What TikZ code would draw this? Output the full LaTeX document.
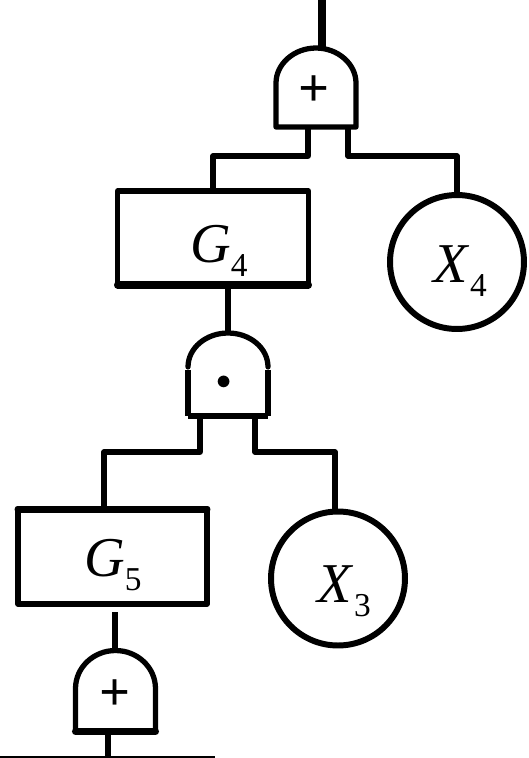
\documentclass[tikz,border=0pt]{standalone}
\usepackage{fontspec}
\setmainfont{Liberation Serif}
\usetikzlibrary{positioning, calc}

\newcommand{\lowsub}[2]{\hspace{#1}\raisebox{-0.28cm}{\fontsize{19}{19}\selectfont\upshape #2}}

\begin{document}
\begin{tikzpicture}[
    x=0.02cm, y=-0.02cm,
    wire/.style={line width=2.9pt, line join=round},
    outline/.style={line width=3pt, line join=round},
    thickedge/.style={line width=4pt, line cap=round},
    gatebody/.style={minimum width=1.6cm, inner sep=0pt, outer sep=0pt},
    eventbox/.style={draw, line width=3pt, line join=round, inner sep=0pt, outer sep=0pt},
    basic/.style={draw, circle, line width=3.4pt, minimum size=2.68cm, inner sep=0pt, outer sep=0pt},
    symbolmark/.style={font=\fontsize{31}{31}\selectfont\bfseries, inner sep=0pt},
    element/.style={font=\fontsize{32}{32}\selectfont\itshape, anchor=base west, inner sep=0pt}
]
\useasboundingbox (0,0) rectangle (528,758);

% Top OR gate
\node[gatebody, minimum height=1.58cm] (orA) at (316,87.5) {};
\draw[outline] (orA.south west) -- ++(0,-44)
    .. controls +(0,-19) and +(-22,0) .. (orA.north)
    .. controls +(22,0) and +(0,-19) .. ($(orA.south east)+(0,-44)$)
    -- (orA.south east) -- cycle;
\node[symbolmark] (plusA) at (314,91) {+};
\coordinate (topend) at (322,0);
\coordinate (orAin) at (322,48);
\draw[line width=5pt] (topend) -- (orAin);

% Second level
\node[eventbox, minimum width=3.82cm, minimum height=1.88cm] (boxG4) at (213,238) {};
\draw[thickedge] (boxG4.south west) -- (boxG4.south east);
\node[element] (textG4) at (190,262) {G\lowsub{0pt}{4}};
\node[basic] (circX4) at (457,262) {};
\node[element] (textX4) at (433,282) {X\lowsub{0.05cm}{4}};

\coordinate (orAleft) at (308,127);
\coordinate (orAright) at (348,127);
\draw[wire] (orAleft) -- ++(0,29) -| (boxG4.north);
\draw[wire] (orAright) -- ++(0,29) -| (circX4.north);

% AND gate, outline broken at the shoulders
\node[gatebody, minimum height=1.66cm] (andA) at (228,374.5) {};
\draw[outline] (andA.south west) -- ++(0,-46);
\draw[outline] (andA.south east) -- ++(0,-46);
\draw[outline] (andA.south west) -- (andA.south east);
\draw[outline, line cap=round] ($(andA.south west)+(0,-49)$)
    .. controls +(0,-19) and +(-22,0) .. (andA.north)
    .. controls +(22,0) and +(0,-19) .. ($(andA.south east)+(0,-49)$);
\node[font=\fontsize{18}{18}\selectfont, inner sep=0pt] (dotA) at (224.5,383) {$\bullet$};
\draw[wire] (boxG4.south -| andA.north) -- (andA.north);

% Third level
\node[eventbox, minimum width=3.78cm, minimum height=1.9cm] (boxG5) at (112.5,556.5) {};
\draw[thickedge] (boxG5.north west) -- (boxG5.north east);
\node[element] (textG5) at (84,576) {G\lowsub{0pt}{5}};
\node[basic] (circX3) at (338,578.5) {};
\node[element] (textX3) at (317,602) {X\lowsub{0.05cm}{3}};

\coordinate (andAleft) at (200,416);
\coordinate (andAright) at (255,416);
\coordinate (boxG5in) at (104,509);
\coordinate (circX3in) at (335,510);
\draw[wire] (andAleft) -- ++(0,36) -| (boxG5in);
\draw[wire] (andAright) -- ++(0,36) -| (circX3in);

% Bottom OR gate
\node[gatebody, minimum height=1.62cm] (orB) at (115.5,691) {};
\draw[outline] (orB.south west) -- ++(0,-43)
    .. controls +(0,-21) and +(-22,0) .. (orB.north)
    .. controls +(22,0) and +(0,-21) .. ($(orB.south east)+(0,-43)$)
    -- (orB.south east) -- cycle;
\draw[thickedge] (orB.south west) -- (orB.south east);
\node[symbolmark] (plusB) at (115,695) {+};
\coordinate (orBtop) at (115,612);
\draw[wire] (orBtop) -- (orBtop |- orB.north);

% Base line
\coordinate (baseleft) at (0,757);
\coordinate (baseright) at (215,757);
\coordinate (orBout) at (108,733);
\draw[line width=1pt] (baseleft) -- (baseright);
\draw[wire] (orBout) -- (orBout |- baseleft);

\end{tikzpicture}
\end{document}
